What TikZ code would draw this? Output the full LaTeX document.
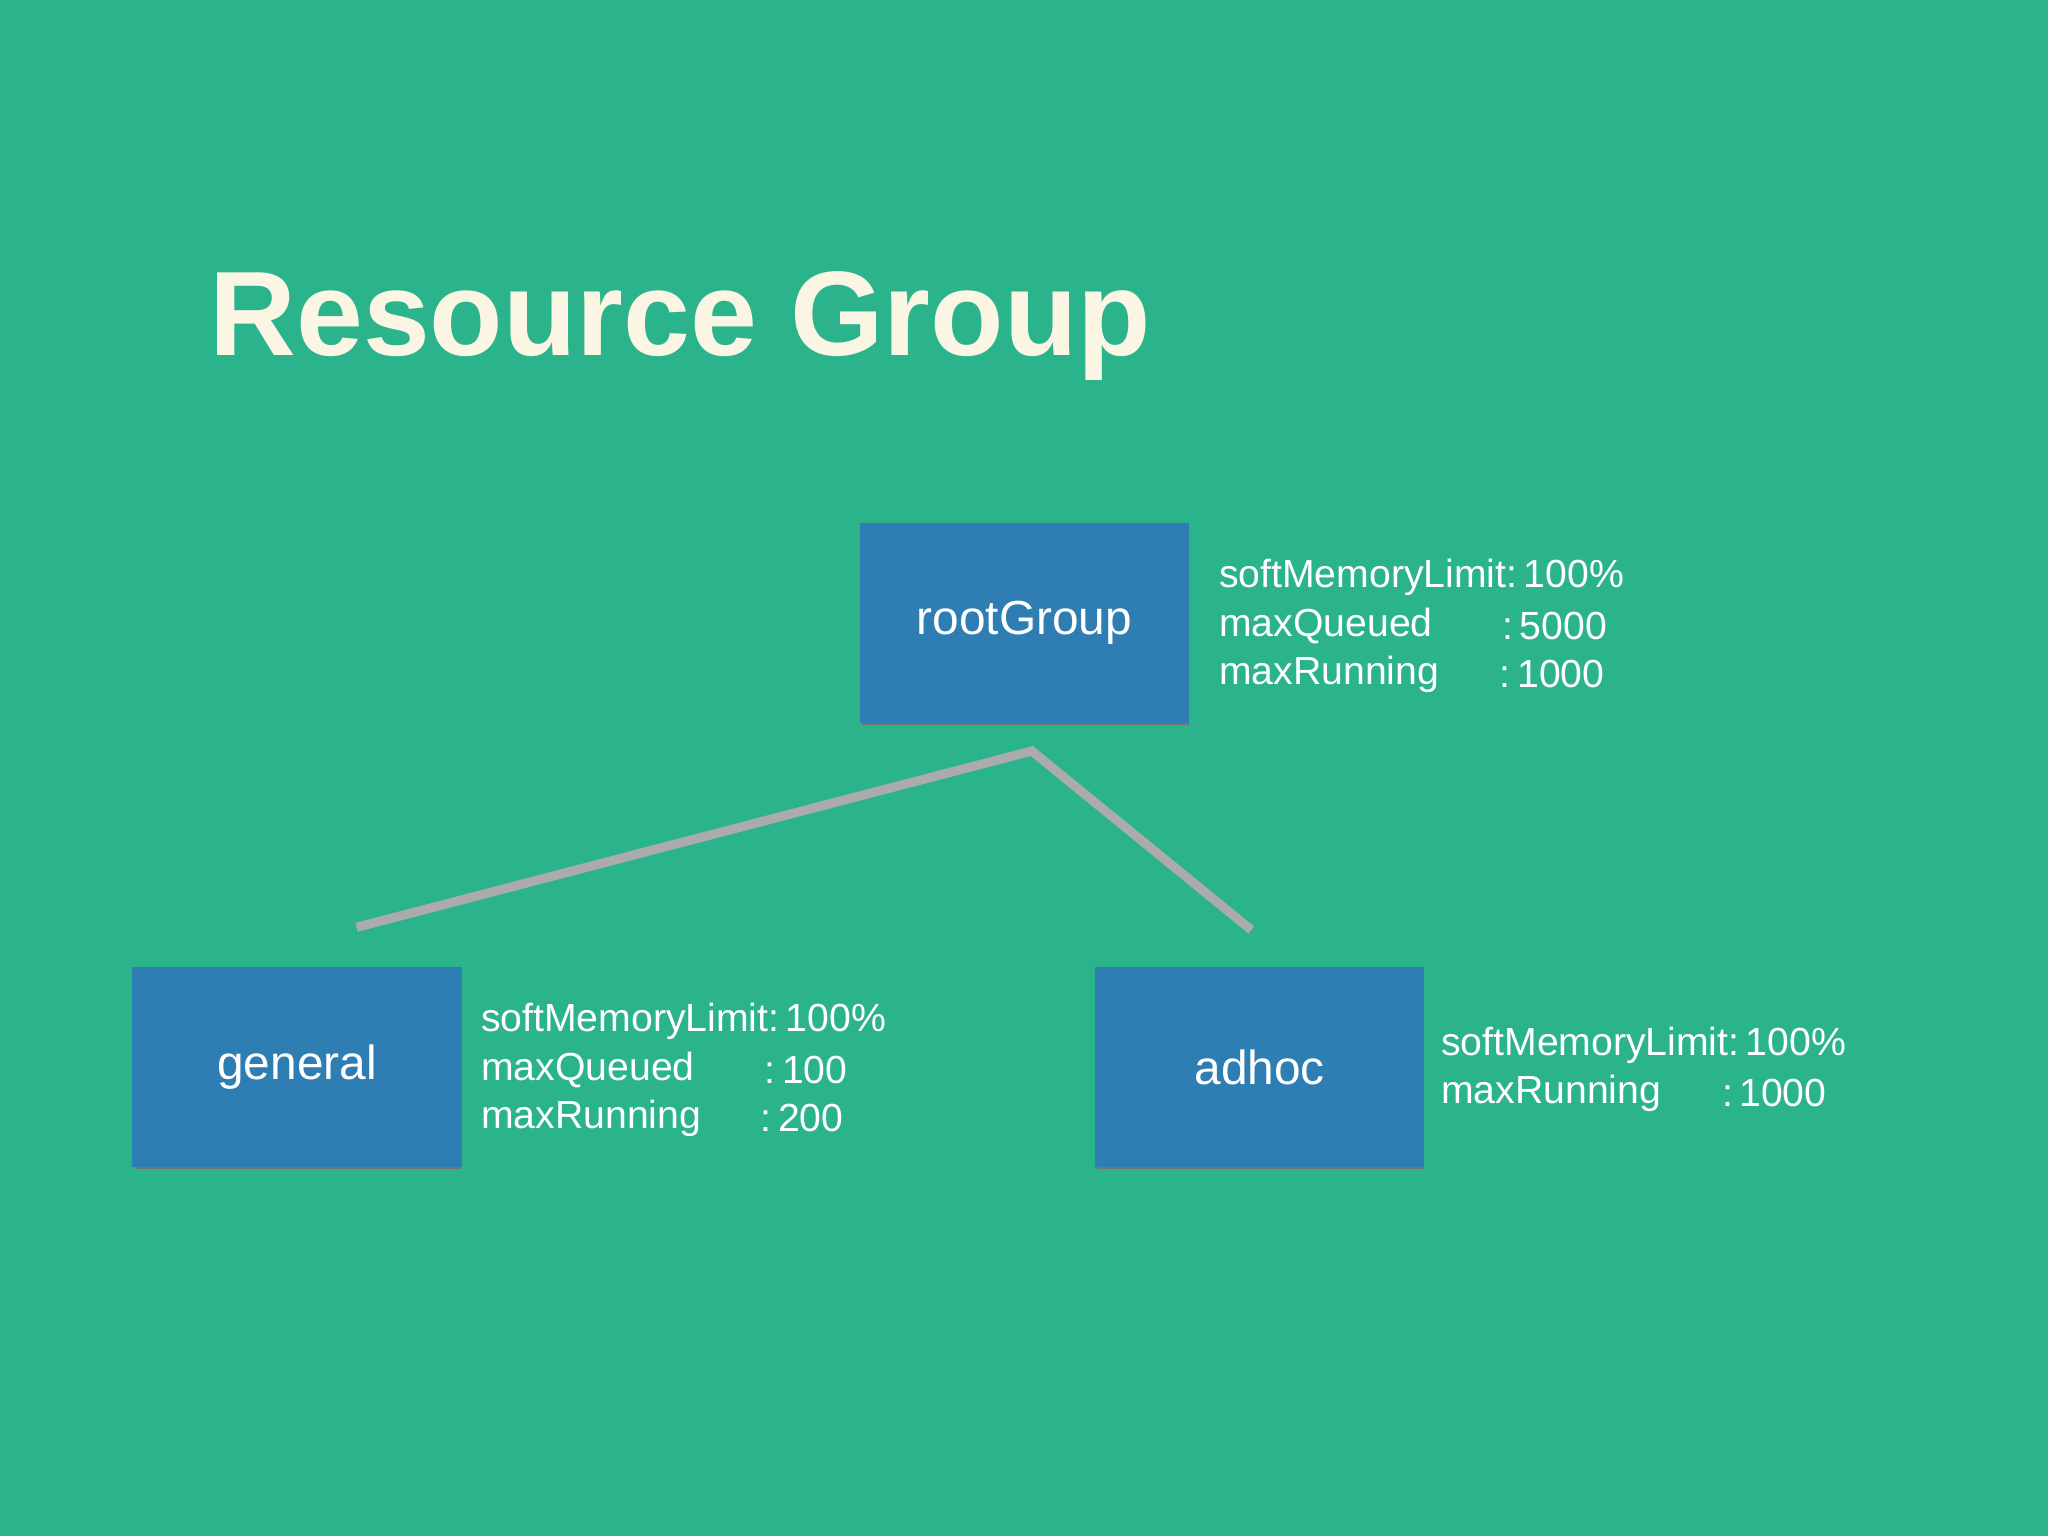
\documentclass[tikz,border=0pt]{standalone}
\usepackage{fontspec}
\setmainfont{Liberation Sans}
\definecolor{bg}{HTML}{2BB38C}
\definecolor{boxc}{HTML}{2E7DB3}
\definecolor{cream}{HTML}{FBF6E4}
\definecolor{conn}{HTML}{ABABAB}
\begin{document}
\begin{tikzpicture}[x=0.5pt,y=-0.5pt,
  grp/.style={fill=boxc,minimum width=126pt,minimum height=76.5pt,anchor=north west,inner sep=0pt,text=white,font=\fontsize{18.3}{20}\selectfont},
  info/.style={anchor=west,text=white,inner sep=0pt,font=\fontsize{15}{17}\selectfont},
  edge/.style={draw=conn,line width=3.5pt}]
\fill[bg] (0,0) rectangle (1568,1176);
\node[anchor=base west,text=cream,inner sep=0pt,font=\bfseries\fontsize{46}{54}\selectfont] (title) at (160,272) {Resource Group};
\fill[black!55] (660,402) rectangle (910,555);
\fill[black!55] (103,742) rectangle (353,895);
\fill[black!55] (840,742) rectangle (1090,895);
\node[grp] (root) at (658,400) {rootGroup};
\node[grp] (general) at (101,740) {general};
\node[grp] (adhoc) at (838,740) {adhoc};
\coordinate (j) at (790,575);
\coordinate (gtop) at (273,710);
\coordinate (atop) at (958,712);
\draw[edge] (gtop) -- (j) -- (atop);
% root info
\node[info] (r1) at (933,442) {softMemoryLimit:\,100\%};
\node[info] (r2) at (933,479) {maxQueued};
\node[info] (r2v) at (1150,479) {:\,5000};
\node[info] (r3) at (933,516) {maxRunning};
\node[info] (r3v) at (1148,516) {:\,1000};
% general info
\node[info] (g1) at (368,782) {softMemoryLimit:\,100\%};
\node[info] (g2) at (368,819) {maxQueued};
\node[info] (g2v) at (585,819) {:\,100};
\node[info] (g3) at (368,856) {maxRunning};
\node[info] (g3v) at (582,856) {:\,200};
% adhoc info
\node[info] (a1) at (1103,800) {softMemoryLimit:\,100\%};
\node[info] (a2) at (1103,837) {maxRunning};
\node[info] (a2v) at (1318,837) {:\,1000};
\end{tikzpicture}
\end{document}
